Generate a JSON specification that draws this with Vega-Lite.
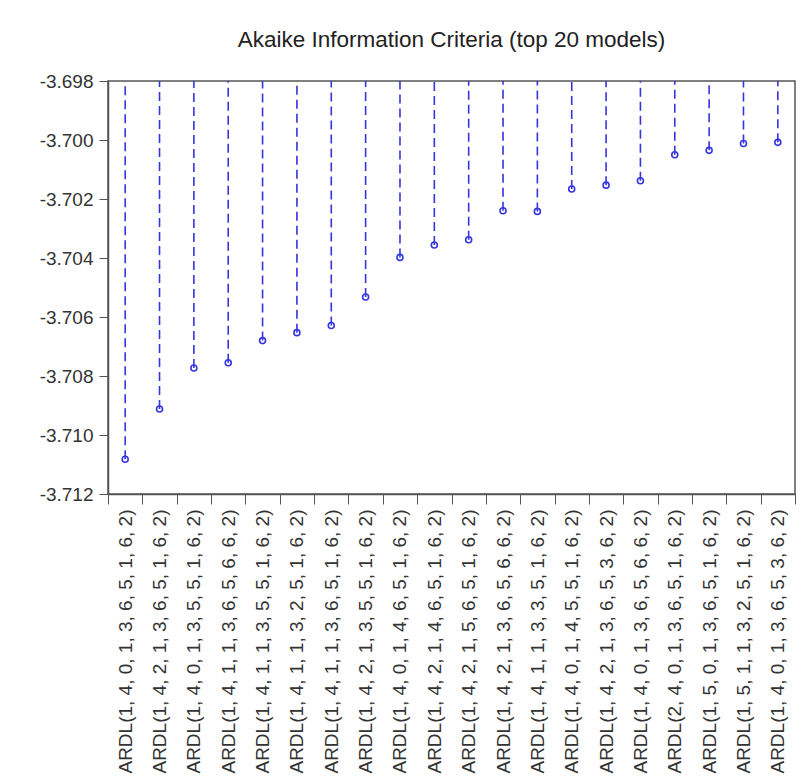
{
  "$schema": "https://vega.github.io/schema/vega-lite/v6.json",
  "width": 687,
  "height": 413,
  "autosize": {"type": "none"},
  "padding": {"left": 108, "top": 81, "right": 16, "bottom": 290},
  "background": "white",
  "title": {
    "text": "Akaike Information Criteria (top 20 models)",
    "font": "Liberation Sans",
    "fontSize": 22.5,
    "fontWeight": "normal",
    "color": "#222222",
    "anchor": "middle",
    "offset": 21
  },
  "config": {
    "view": {"stroke": "#555555", "strokeWidth": 1.5},
    "axis": {"labelFont": "Liberation Sans", "grid": false, "domainColor": "#555555", "tickColor": "#555555", "labelColor": "#333333", "title": null}
  },
  "data": {
    "values": [
      {"model": "ARDL(1, 4, 0, 1, 3, 6, 5, 1, 6, 2)", "aic": -3.71082},
      {"model": "ARDL(1, 4, 2, 1, 3, 6, 5, 1, 6, 2)", "aic": -3.70912},
      {"model": "ARDL(1, 4, 0, 1, 3, 5, 5, 1, 6, 2)", "aic": -3.70773},
      {"model": "ARDL(1, 4, 1, 1, 3, 6, 5, 6, 6, 2)", "aic": -3.70755},
      {"model": "ARDL(1, 4, 1, 1, 3, 5, 5, 1, 6, 2)", "aic": -3.7068},
      {"model": "ARDL(1, 4, 1, 1, 3, 2, 5, 1, 6, 2)", "aic": -3.70653},
      {"model": "ARDL(1, 4, 1, 1, 3, 6, 5, 1, 6, 2)", "aic": -3.70629},
      {"model": "ARDL(1, 4, 2, 1, 3, 5, 5, 1, 6, 2)", "aic": -3.70532},
      {"model": "ARDL(1, 4, 0, 1, 4, 6, 5, 1, 6, 2)", "aic": -3.70398},
      {"model": "ARDL(1, 4, 2, 1, 4, 6, 5, 1, 6, 2)", "aic": -3.70356},
      {"model": "ARDL(1, 4, 2, 1, 5, 6, 5, 1, 6, 2)", "aic": -3.70338},
      {"model": "ARDL(1, 4, 2, 1, 3, 6, 5, 6, 6, 2)", "aic": -3.7024},
      {"model": "ARDL(1, 4, 1, 1, 3, 3, 5, 1, 6, 2)", "aic": -3.70242},
      {"model": "ARDL(1, 4, 0, 1, 4, 5, 5, 1, 6, 2)", "aic": -3.70166},
      {"model": "ARDL(1, 4, 2, 1, 3, 6, 5, 3, 6, 2)", "aic": -3.70153},
      {"model": "ARDL(1, 4, 0, 1, 3, 6, 5, 6, 6, 2)", "aic": -3.70138},
      {"model": "ARDL(2, 4, 0, 1, 3, 6, 5, 1, 6, 2)", "aic": -3.7005},
      {"model": "ARDL(1, 5, 0, 1, 3, 6, 5, 1, 6, 2)", "aic": -3.70035},
      {"model": "ARDL(1, 5, 1, 1, 3, 2, 5, 1, 6, 2)", "aic": -3.70012},
      {"model": "ARDL(1, 4, 0, 1, 3, 6, 5, 3, 6, 2)", "aic": -3.70008}
    ]
  },
  "encoding": {
    "x": {
      "field": "model",
      "type": "nominal",
      "sort": null,
      "scale": {"paddingInner": 0, "paddingOuter": 0},
      "axis": {"labelAngle": -90, "labelFontSize": 19, "labelLimit": 0, "labelPadding": 5, "tickBand": "extent", "tickSize": 10, "domainWidth": 1.5}
    },
    "y": {
      "field": "aic",
      "type": "quantitative",
      "scale": {"domain": [-3.712, -3.698], "nice": false, "zero": false},
      "axis": {"values": [-3.712, -3.71, -3.708, -3.706, -3.704, -3.702, -3.7, -3.698], "format": ".3f", "labelExpr": "replace(datum.label, '\u2212', '-')", "labelFontSize": 19, "tickSize": 9, "labelPadding": 6, "domainWidth": 1.5}
    }
  },
  "layer": [
    {
      "mark": {"type": "rule", "color": "#3535e0", "strokeWidth": 1.6, "strokeDash": [9, 5]},
      "encoding": {"y2": {"datum": -3.698}}
    },
    {
      "mark": {"type": "point", "shape": "circle", "filled": false, "color": "#3535e0", "strokeWidth": 1.6, "size": 36, "opacity": 1}
    }
  ]
}
